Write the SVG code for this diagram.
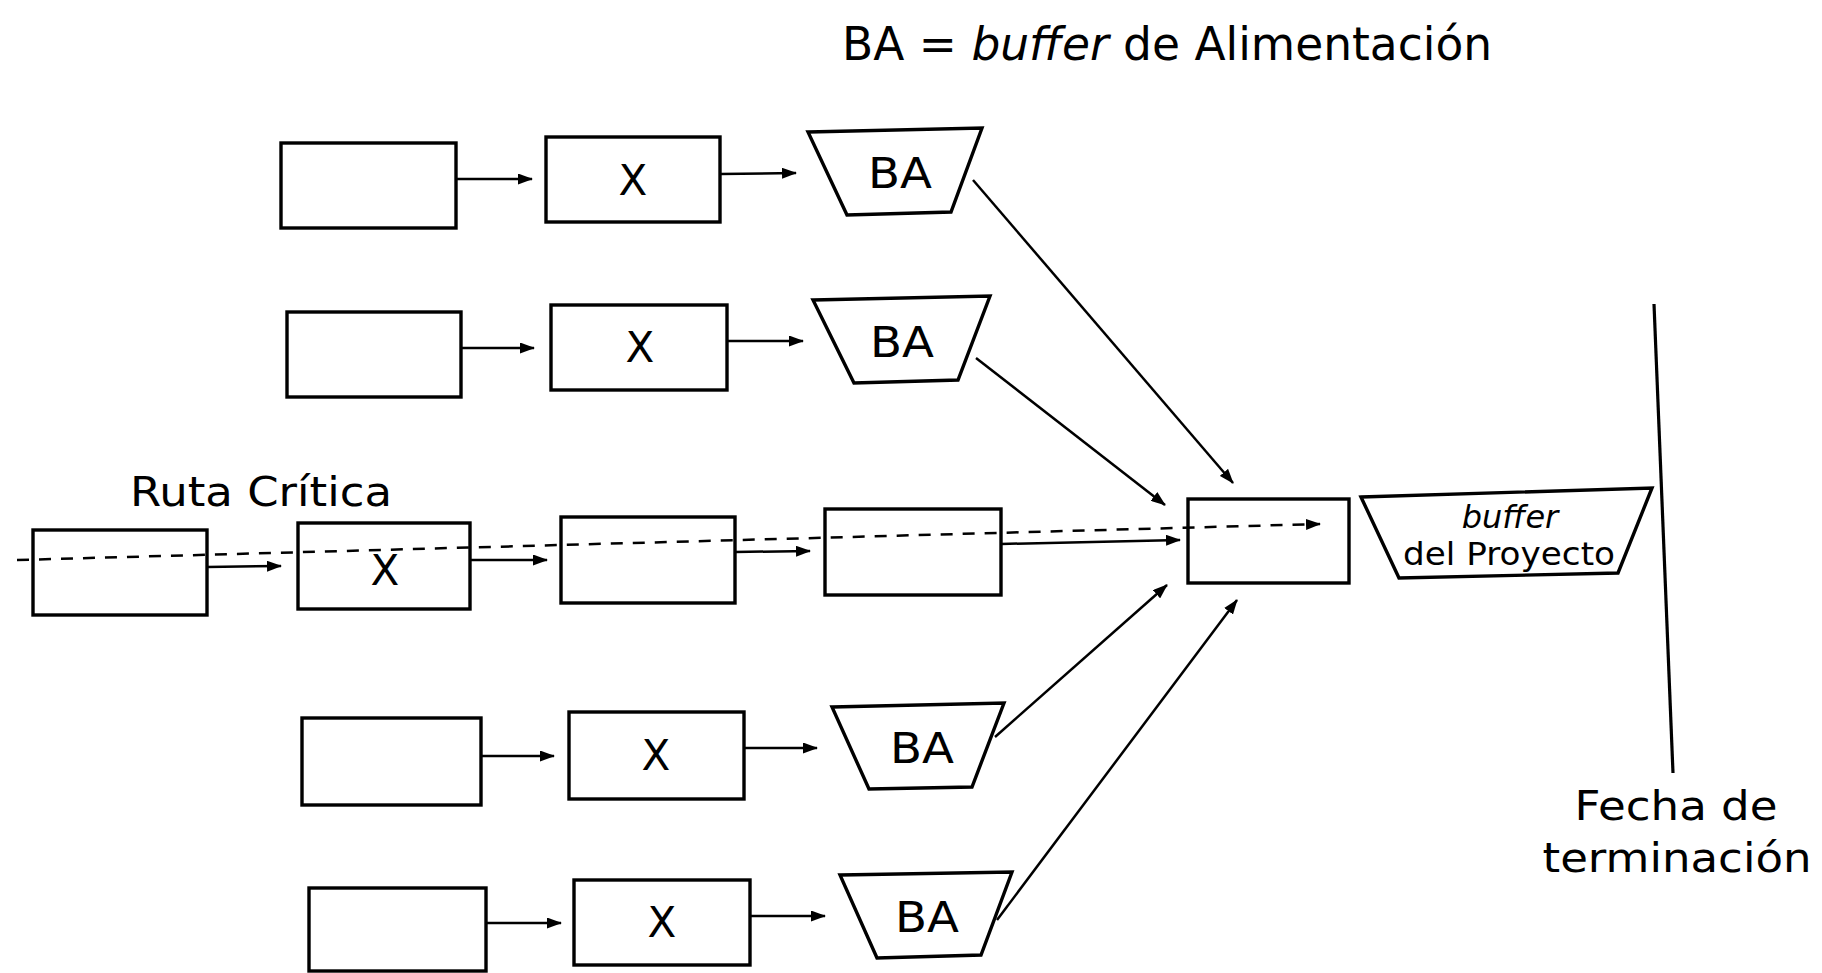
<svg xmlns="http://www.w3.org/2000/svg" width="1822" height="973" viewBox="0 0 1822 973">
  <style>
    .box { fill: #fff; stroke: #000; stroke-width: 3.4; }
    .edge { fill: none; stroke: #000; stroke-width: 2.5; }
    .dash { fill: none; stroke: #000; stroke-width: 2.5; stroke-dasharray: 12 10; }
    .lbl { font-family: "DejaVu Sans", "Liberation Sans", sans-serif; fill: #000; }
    .big { font-size: 42px; text-anchor: middle; }
  </style>
  <defs>
    <marker id="head" markerUnits="userSpaceOnUse" markerWidth="15" markerHeight="11" refX="14" refY="5.5" orient="auto">
      <path d="M0,0 L15,5.5 L0,11 z" fill="#000"/>
    </marker>
  </defs>

  <rect width="1822" height="973" fill="#fff"/>

  <!-- legend -->
  <text class="lbl" x="842" y="60" font-size="45.5">BA = <tspan font-style="italic">buffer</tspan> de Alimentación</text>

  <!-- feeding chain 1 -->
  <g id="a1"><rect class="box" x="281" y="143" width="175" height="85"/></g>
  <g id="x1"><rect class="box" x="546" y="137" width="174" height="85"/><text class="lbl big" x="633" y="195">X</text></g>
  <g id="ba1"><polygon class="box" points="808,132 982,128 951,212 847,215"/><text class="lbl big" x="900" y="188" textLength="64" lengthAdjust="spacingAndGlyphs">BA</text></g>

  <!-- feeding chain 2 -->
  <g id="a2"><rect class="box" x="287" y="312" width="174" height="85"/></g>
  <g id="x2"><rect class="box" x="551" y="305" width="176" height="85"/><text class="lbl big" x="640" y="362">X</text></g>
  <g id="ba2"><polygon class="box" points="813,300 990,296 958,380 854,383"/><text class="lbl big" x="902" y="357" textLength="64" lengthAdjust="spacingAndGlyphs">BA</text></g>

  <!-- critical chain -->
  <text class="lbl" x="130" y="506" font-size="41" textLength="262" lengthAdjust="spacingAndGlyphs">Ruta Crítica</text>
  <g id="c1"><rect class="box" x="33" y="530" width="174" height="85"/></g>
  <g id="c2"><rect class="box" x="298" y="523" width="172" height="86"/><text class="lbl big" x="385" y="585">X</text></g>
  <g id="c3"><rect class="box" x="561" y="517" width="174" height="86"/></g>
  <g id="c4"><rect class="box" x="825" y="509" width="176" height="86"/></g>
  <g id="final"><rect class="box" x="1188" y="499" width="161" height="84"/></g>

  <!-- project buffer -->
  <g id="project-buffer">
    <polygon class="box" points="1361,497 1652,488 1618,573 1399,578"/>
    <text class="lbl" x="1510" y="528" font-size="32" font-style="italic" text-anchor="middle">buffer</text>
    <text class="lbl" x="1509" y="565" font-size="32" text-anchor="middle" textLength="212" lengthAdjust="spacingAndGlyphs">del Proyecto</text>
  </g>

  <!-- feeding chain 4 -->
  <g id="a4"><rect class="box" x="302" y="718" width="179" height="87"/></g>
  <g id="x4"><rect class="box" x="569" y="712" width="175" height="87"/><text class="lbl big" x="656" y="770">X</text></g>
  <g id="ba4"><polygon class="box" points="832,707 1004,703 972,787 869,789"/><text class="lbl big" x="922" y="763" textLength="64" lengthAdjust="spacingAndGlyphs">BA</text></g>

  <!-- feeding chain 5 -->
  <g id="a5"><rect class="box" x="309" y="888" width="177" height="83"/></g>
  <g id="x5"><rect class="box" x="574" y="880" width="176" height="85"/><text class="lbl big" x="662" y="937">X</text></g>
  <g id="ba5"><polygon class="box" points="840,875 1012,872 981,955 877,958"/><text class="lbl big" x="927" y="932" textLength="64" lengthAdjust="spacingAndGlyphs">BA</text></g>

  <!-- completion date -->
  <g id="deadline">
    <line x1="1654" y1="304" x2="1673" y2="773" stroke="#000" stroke-width="3.2"/>
    <text class="lbl" x="1676" y="820" font-size="41" text-anchor="middle" textLength="203" lengthAdjust="spacingAndGlyphs">Fecha de</text>
    <text class="lbl" x="1677" y="872" font-size="41" text-anchor="middle" textLength="269" lengthAdjust="spacingAndGlyphs">terminación</text>
  </g>

  <!-- connectors -->
  <g id="connectors">
    <line class="edge" x1="456" y1="179" x2="532" y2="179" marker-end="url(#head)"/>
    <line class="edge" x1="720" y1="174" x2="796" y2="173" marker-end="url(#head)"/>
    <line class="edge" x1="973" y1="180" x2="1233" y2="483" marker-end="url(#head)"/>

    <line class="edge" x1="461" y1="348" x2="534" y2="348" marker-end="url(#head)"/>
    <line class="edge" x1="728" y1="341" x2="803" y2="341" marker-end="url(#head)"/>
    <line class="edge" x1="976" y1="358" x2="1165" y2="505" marker-end="url(#head)"/>

    <line class="edge" x1="207" y1="567" x2="281" y2="566" marker-end="url(#head)"/>
    <line class="edge" x1="470" y1="560" x2="547" y2="560" marker-end="url(#head)"/>
    <line class="edge" x1="735" y1="552" x2="810" y2="551" marker-end="url(#head)"/>
    <line class="edge" x1="1001" y1="544" x2="1180" y2="540" marker-end="url(#head)"/>
    <line class="dash" x1="17" y1="560" x2="1320" y2="524" marker-end="url(#head)"/>

    <line class="edge" x1="481" y1="756" x2="554" y2="756" marker-end="url(#head)"/>
    <line class="edge" x1="744" y1="748" x2="817" y2="748" marker-end="url(#head)"/>
    <line class="edge" x1="995" y1="737" x2="1167" y2="585" marker-end="url(#head)"/>

    <line class="edge" x1="486" y1="923" x2="561" y2="923" marker-end="url(#head)"/>
    <line class="edge" x1="750" y1="916" x2="825" y2="916" marker-end="url(#head)"/>
    <line class="edge" x1="997" y1="920" x2="1237" y2="600" marker-end="url(#head)"/>
  </g>
</svg>
